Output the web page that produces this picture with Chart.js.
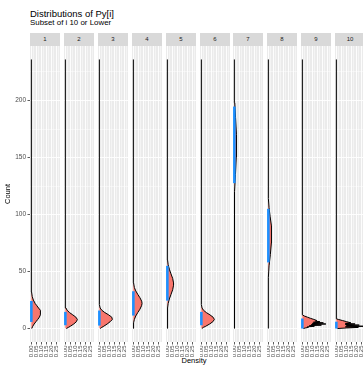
<!DOCTYPE html>
<html>
<head>
<meta charset="utf-8">
<script src="https://cdn.jsdelivr.net/npm/chart.js@4.4.1/dist/chart.umd.min.js"></script>
<style>
  html, body { margin: 0; padding: 0; overflow: hidden; background: #fff; }
  body { width: 363px; height: 366px; position: relative; font-family: "Liberation Sans", Arial, sans-serif; }
  .txt { position: absolute; white-space: nowrap; line-height: 1; }
  .strip { position: absolute; top: 33px; width: 30px; height: 13px; background: #D9D9D9;
           color: #1A1A1A; font-size: 6px; line-height: 13px; text-align: center; }
  canvas { position: absolute; top: 46px; }
</style>
</head>
<body>
<div class="txt" style="left:30px; top:8.7px; font-size:9.5px; color:#000;">Distributions of Py[i]</div>
<div class="txt" style="left:30px; top:19.3px; font-size:7.9px; color:#000;">Subset of i 10 or Lower</div>
<div class="txt" style="left:194px; top:357px; font-size:7.5px; color:#000; transform:translateX(-50%);">Density</div>
<script>
// facet labels
const panelLabels = ['1', '2', '3', '4', '5', '6', '7', '8', '9', '10'];

// density curve per facet: count (vertical) -> density (horizontal)
const counts1 = [0, 2, 4, 6, 8, 10, 12, 14, 16, 18, 20, 22, 25, 28, 32, 36, 236];
const dens1 = [0.004, 0.014, 0.028, 0.046, 0.064, 0.08, 0.09, 0.094, 0.087, 0.072, 0.055, 0.038, 0.02, 0.009, 0.002, 0, 0];
const counts2 = [0, 1, 2, 4, 6, 8, 10, 12, 14, 16, 18, 21, 236];
const dens2 = [0.01, 0.03, 0.05, 0.084, 0.11, 0.12, 0.105, 0.074, 0.042, 0.018, 0.006, 0, 0];
const counts3 = [0, 1, 2, 4, 6, 8, 10, 12, 14, 16, 18, 21, 236];
const dens3 = [0.008, 0.024, 0.044, 0.078, 0.108, 0.13, 0.124, 0.093, 0.055, 0.025, 0.008, 0, 0];
const counts4 = [0, 5, 8, 11, 14, 17, 20, 22, 24, 27, 30, 33, 36, 40, 236];
const dens4 = [0, 0.002, 0.01, 0.024, 0.044, 0.066, 0.082, 0.087, 0.083, 0.066, 0.044, 0.024, 0.01, 0.002, 0];
const counts5 = [0, 18, 22, 26, 30, 34, 38, 40, 44, 48, 52, 56, 60, 236];
const dens5 = [0, 0.002, 0.008, 0.02, 0.037, 0.053, 0.062, 0.062, 0.053, 0.036, 0.02, 0.008, 0.002, 0];
const counts6 = [0, 1, 2, 4, 6, 8, 10, 12, 14, 16, 18, 21, 236];
const dens6 = [0.005, 0.02, 0.044, 0.083, 0.115, 0.13, 0.117, 0.086, 0.05, 0.022, 0.007, 0, 0];
const counts7 = [0, 105, 120, 135, 150, 160, 170, 185, 198, 210, 236];
const dens7 = [0, 0, 0.003, 0.011, 0.019, 0.022, 0.02, 0.012, 0.004, 0, 0];
const counts8 = [0, 45, 55, 65, 75, 82, 90, 98, 106, 114, 236];
const dens8 = [0, 0, 0.007, 0.02, 0.03, 0.033, 0.029, 0.018, 0.007, 0, 0];
const counts9 = [0, 0.5, 1, 1.5, 2, 2.5, 3, 3.5, 4, 4.5, 5, 5.5, 6, 6.5, 7, 8, 9, 10, 11, 12, 236];
const dens9 = [0.01, 0.03, 0.06, 0.05, 0.12, 0.07, 0.19, 0.09, 0.235, 0.1, 0.21, 0.11, 0.175, 0.13, 0.145, 0.115, 0.08, 0.05, 0.02, 0, 0];
const counts10 = [0, 0.5, 1, 1.5, 2, 2.5, 3, 3.5, 4, 4.5, 5, 6, 7, 8, 8.5, 236];
const dens10 = [0.01, 0.1, 0.22, 0.09, 0.273, 0.1, 0.229, 0.09, 0.187, 0.09, 0.145, 0.104, 0.062, 0.02, 0, 0];

// blue interval on the baseline
const intervalLow = [5.8, 2.9, 2.6, 11.4, 24.5, 2.9, 127.5, 58, 0, 0];
const intervalHigh = [24.2, 14.6, 15.8, 32.7, 55, 14.6, 194.7, 105, 8.8, 6];

// axis breaks
const xMajor = [0, 0.05, 0.1, 0.15, 0.2, 0.25];
const xMinor = [0.025, 0.075, 0.125, 0.175, 0.225, 0.275];
const yMajor = [0, 50, 100, 150, 200];
const yMinor = [25, 75, 125, 175, 225];

const panelCounts = [counts1, counts2, counts3, counts4, counts5, counts6, counts7, counts8, counts9, counts10];
const panelDens = [dens1, dens2, dens3, dens4, dens5, dens6, dens7, dens8, dens9, dens10];

Chart.defaults.font.family = '"Liberation Sans", Arial, sans-serif';

const isMajor = (list, v) => list.some(m => Math.abs(m - v) < 1e-9);

// gray panel background
const panelBackground = {
    id: 'panelBackground',
    beforeDraw(chart) {
        const { ctx, chartArea: a } = chart;
        ctx.save();
        ctx.fillStyle = '#EBEBEB';
        ctx.fillRect(a.left, a.top, a.right - a.left, a.bottom - a.top);
        ctx.restore();
    }
};

const PANEL_W = 30, PANEL_H = 296, XAXIS_H = 18, YAXIS_W = 30;

panelLabels.forEach((label, i) => {
    const left = Math.round(30 + i * 33.9);
    const first = i === 0;

    const strip = document.createElement('div');
    strip.className = 'strip';
    strip.style.left = left + 'px';
    strip.textContent = label;
    document.body.appendChild(strip);

    const canvas = document.createElement('canvas');
    canvas.width = PANEL_W + (first ? YAXIS_W : 0);
    canvas.height = PANEL_H + XAXIS_H;
    canvas.style.left = (first ? left - YAXIS_W : left) + 'px';
    document.body.appendChild(canvas);

    const curve = panelCounts[i].map((c, k) => ({ x: panelDens[i][k], y: c }));

    new Chart(canvas, {
        type: 'line',
        data: {
            datasets: [
                {
                    data: [{ x: 0, y: intervalLow[i] }, { x: 0, y: intervalHigh[i] }],
                    borderColor: '#1E90FF',
                    borderWidth: 2.6,
                    pointRadius: 0,
                    fill: false
                },
                {
                    data: curve,
                    borderColor: '#000000',
                    borderWidth: 1,
                    backgroundColor: '#F8766D',
                    pointRadius: 0,
                    tension: 0,
                    fill: 'origin'
                }
            ]
        },
        options: {
            indexAxis: 'y',
            responsive: false,
            animation: false,
            events: [],
            layout: { padding: 0 },
            plugins: { legend: { display: false }, tooltip: { enabled: false } },
            scales: {
                x: {
                    type: 'linear',
                    min: -0.0136,
                    max: 0.2864,
                    border: { display: false },
                    afterBuildTicks: s => { s.ticks = [...xMajor, ...xMinor].sort((a, b) => a - b).map(v => ({ value: v })); },
                    afterFit: s => { s.height = XAXIS_H; s.paddingLeft = 0; s.paddingRight = 0; },
                    grid: {
                        color: '#FFFFFF',
                        lineWidth: c => isMajor(xMajor, c.tick.value) ? 0.9 : 0.45,
                        tickLength: 2.5,
                        tickWidth: 0.8,
                        tickColor: c => isMajor(xMajor, c.tick.value) ? '#333333' : 'rgba(0,0,0,0)'
                    },
                    ticks: {
                        autoSkip: false,
                        minRotation: 90,
                        maxRotation: 90,
                        padding: 1,
                        color: '#4D4D4D',
                        font: { size: 6 },
                        callback: v => isMajor(xMajor, v) ? v.toFixed(2) : ''
                    }
                },
                y: {
                    type: 'linear',
                    min: -11.8,
                    max: 247.8,
                    border: { display: false },
                    afterBuildTicks: s => { s.ticks = [...yMajor, ...yMinor].sort((a, b) => a - b).map(v => ({ value: v })); },
                    afterFit: s => { s.width = first ? YAXIS_W : 0; s.paddingTop = 0; s.paddingBottom = 0; },
                    grid: {
                        color: '#FFFFFF',
                        lineWidth: c => isMajor(yMajor, c.tick.value) ? 0.9 : 0.45,
                        drawTicks: first,
                        tickLength: 2.5,
                        tickWidth: 0.8,
                        tickColor: c => isMajor(yMajor, c.tick.value) ? '#333333' : 'rgba(0,0,0,0)'
                    },
                    ticks: {
                        display: first,
                        padding: 1.5,
                        color: '#4D4D4D',
                        font: { size: 6.5 },
                        callback: v => isMajor(yMajor, v) ? String(v) : ''
                    },
                    title: {
                        display: first,
                        text: 'Count',
                        color: '#000000',
                        font: { size: 7.5 },
                        padding: { top: 3.8, bottom: 0 }
                    }
                }
            }
        },
        plugins: [panelBackground]
    });
});
</script>
</body>
</html>
